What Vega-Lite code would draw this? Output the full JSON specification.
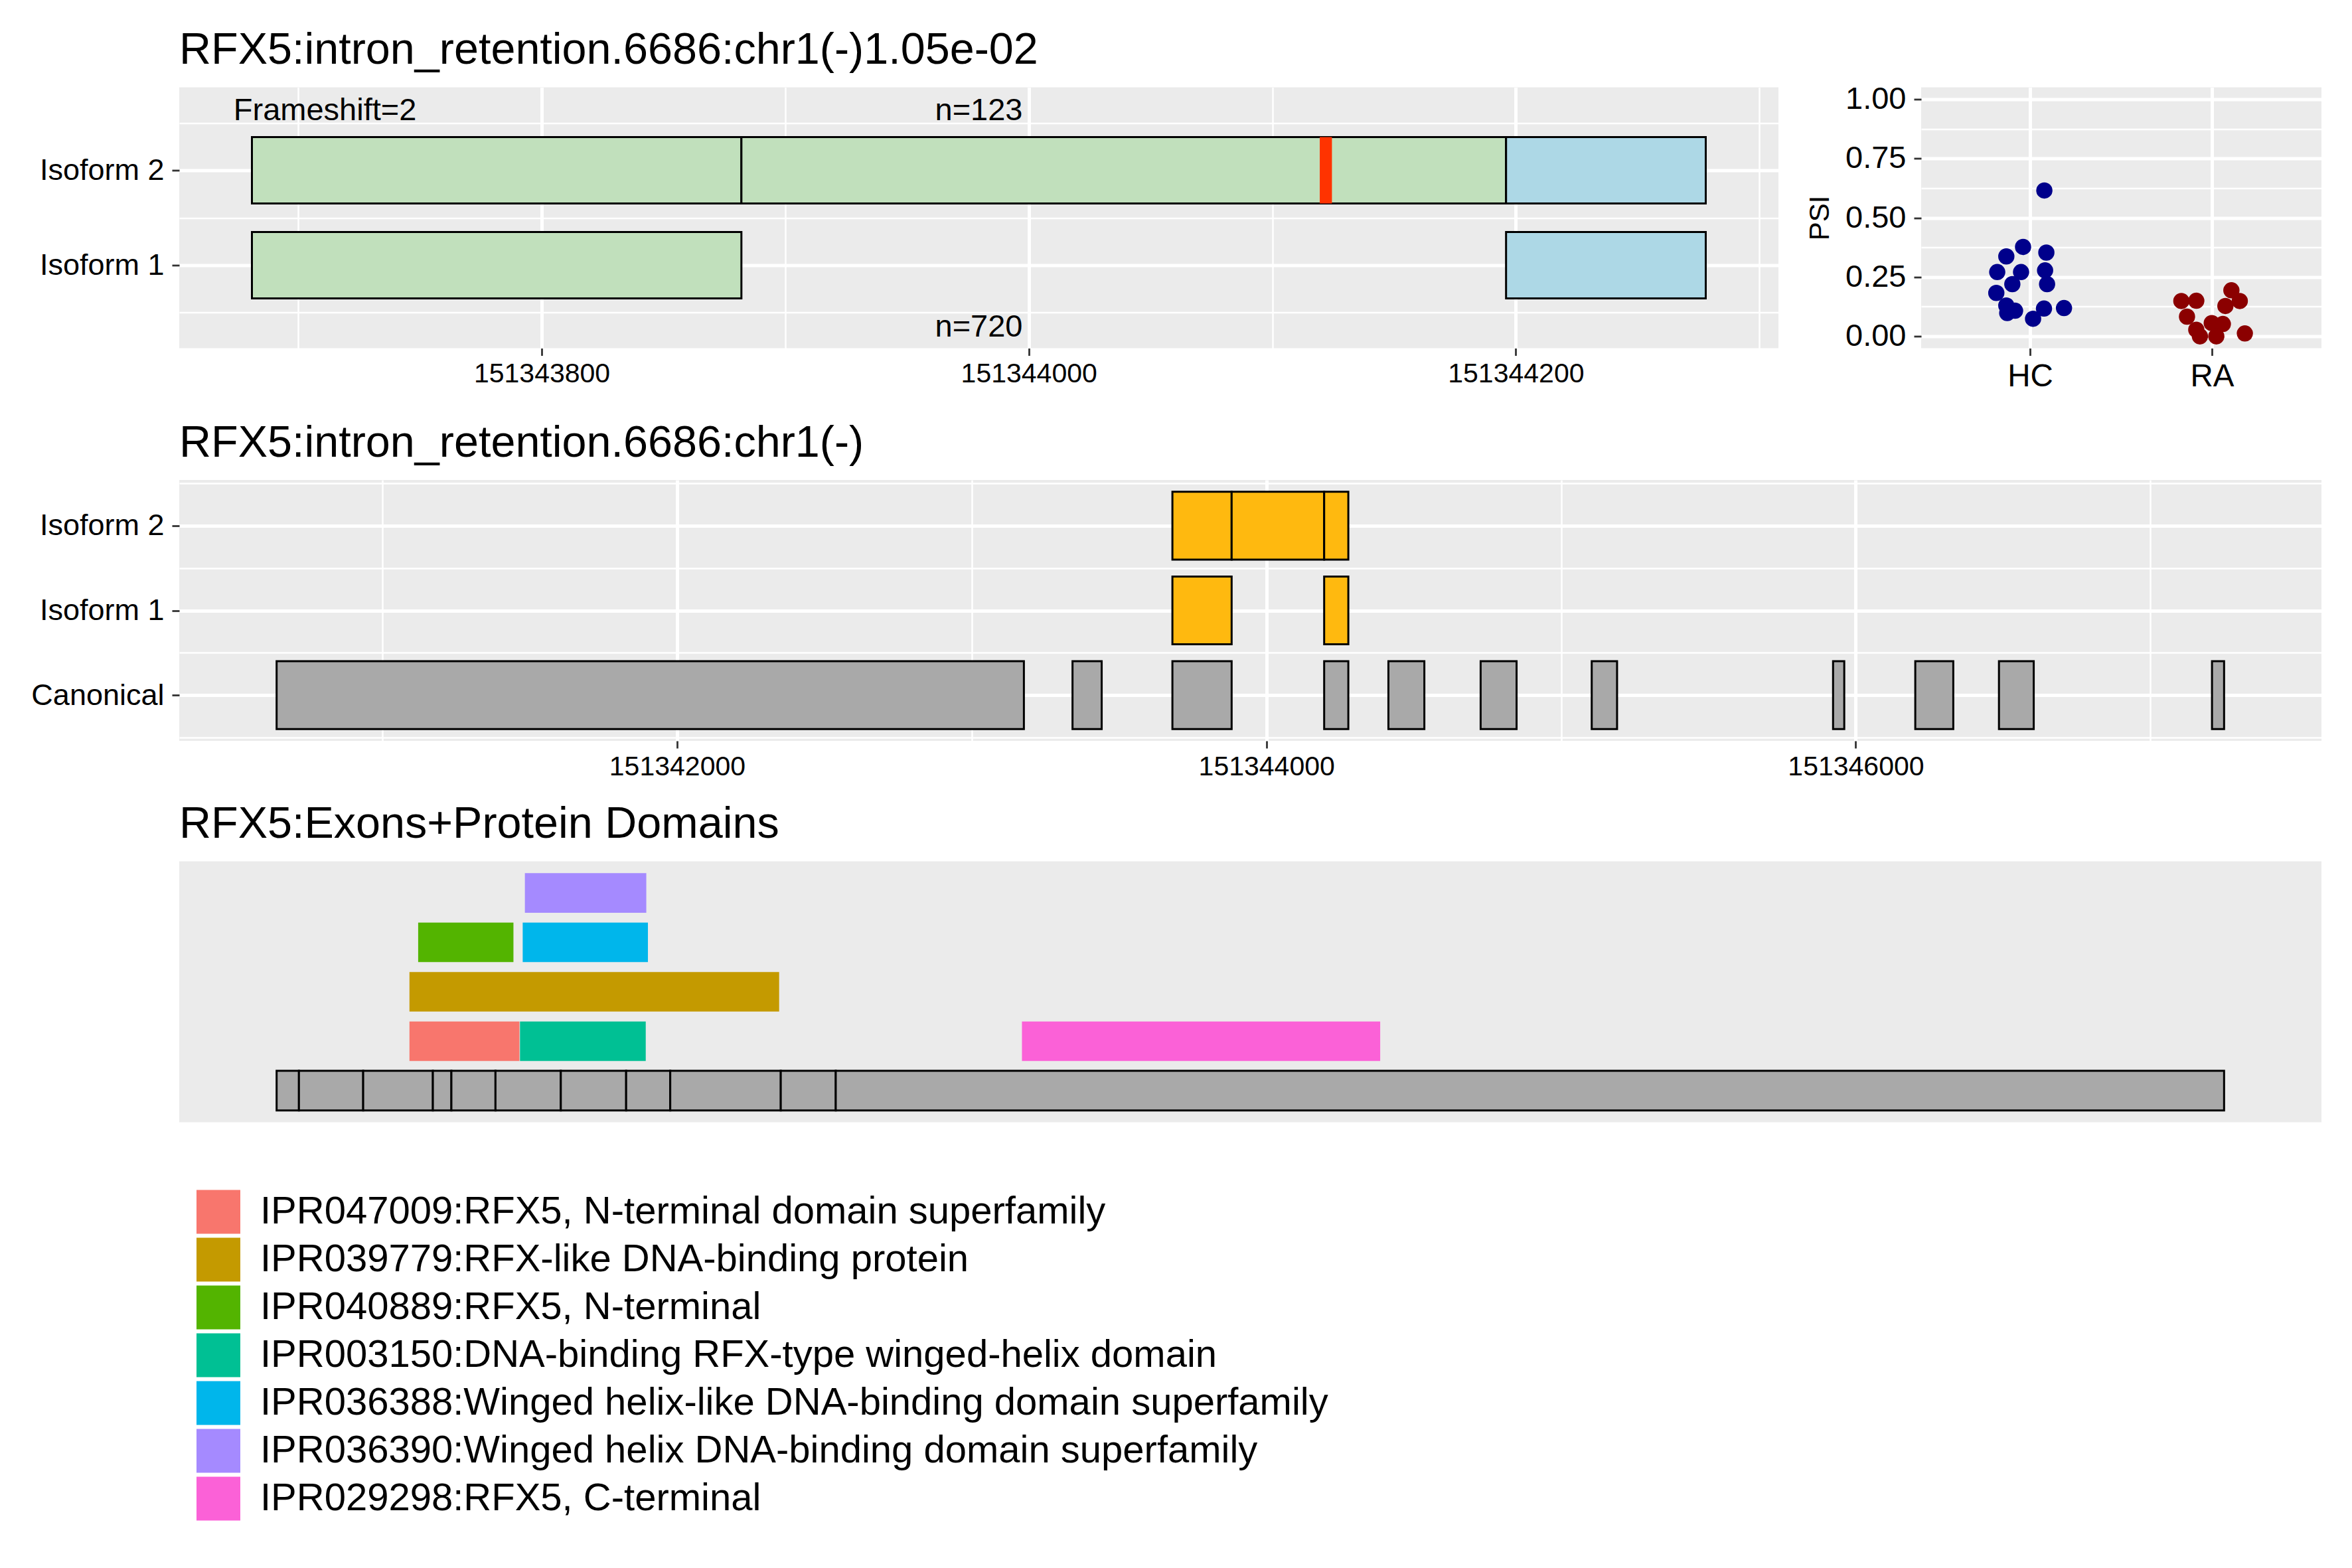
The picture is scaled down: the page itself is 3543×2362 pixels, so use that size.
{
  "$schema": "https://vega.github.io/schema/vega-lite/v6.json",
  "background": "white",
  "padding": {"left": 46, "top": 42.5, "right": 20, "bottom": 20},
  "spacing": 14.5,
  "bounds": "full",
  "resolve": {"scale": {"fill": "independent", "color": "independent"}},
  "config": {
    "font": "Liberation Sans",
    "view": {"fill": "#EBEBEB", "stroke": null},
    "axis": {"domain": false, "grid": true, "gridColor": "#FFFFFF", "tickColor": "#333333", "tickWidth": 2.8, "tickSize": 11, "labelColor": "#000000", "labelFont": "Liberation Sans", "titleFont": "Liberation Sans", "titleFontWeight": "normal", "titleColor": "#000000", "labelOverlap": false, "labelFlush": false, "labelLimit": 2000},
    "axisX": {"labelPadding": 8, "labelFontSize": 41},
    "axisY": {"labelPadding": 12, "labelFontSize": 45},
    "title": {"anchor": "start", "fontSize": 66.5, "font": "Liberation Sans", "fontWeight": "normal", "color": "#000000", "offset": 22, "frame": "group"}
  },
  "vconcat": [
    {
      "hconcat": [
        {
          "width": 2409,
          "height": 393,
          "title": {"text": "RFX5:intron_retention.6686:chr1(-)1.05e-02"},
          "encoding": {
            "x": {"field": "from", "type": "quantitative", "scale": {"domain": [151343651.15, 151344307.85], "nice": false, "zero": false},
              "axis": {"title": null, "values": [151343700, 151343800, 151343900, 151344000, 151344100, 151344200, 151344300], "minExtent": 95,
                "labelExpr": "datum.value % 200 == 0 ? format(datum.value, 'd') : ''",
                "labelFontSize": {"condition": {"test": "datum.value % 200 == 0", "value": 41}, "value": 0},
                "gridWidth": {"condition": {"test": "datum.value % 200 == 0", "value": 5}, "value": 2.5},
                "tickOpacity": {"condition": {"test": "datum.value % 200 == 0", "value": 1}, "value": 0}}},
            "y": {"field": "lo", "type": "quantitative", "scale": {"domain": [0.125, 2.875], "nice": false, "zero": false},
              "axis": {"title": null, "values": [0.5, 1, 1.5, 2, 2.5], "minExtent": 224, "maxExtent": 224,
                "labelExpr": "datum.value == 2 ? 'Isoform 2' : datum.value == 1 ? 'Isoform 1' : ''",
                "labelFontSize": {"condition": {"test": "datum.value % 1 == 0", "value": 45}, "value": 0},
                "gridWidth": {"condition": {"test": "datum.value % 1 == 0", "value": 5}, "value": 2.5},
                "tickOpacity": {"condition": {"test": "datum.value % 1 == 0", "value": 1}, "value": 0}}}
          },
          "layer": [
            {
              "data": {"values": [
                {"isoform": "Isoform 2", "from": 151343681, "to": 151343882, "lo": 1.65, "hi": 2.35, "region": "CDS"},
                {"isoform": "Isoform 2", "from": 151343882, "to": 151344196, "lo": 1.65, "hi": 2.35, "region": "CDS"},
                {"isoform": "Isoform 2", "from": 151344196, "to": 151344278, "lo": 1.65, "hi": 2.35, "region": "UTR"},
                {"isoform": "Isoform 1", "from": 151343681, "to": 151343882, "lo": 0.65, "hi": 1.35, "region": "CDS"},
                {"isoform": "Isoform 1", "from": 151344196, "to": 151344278, "lo": 0.65, "hi": 1.35, "region": "UTR"}
              ]},
              "mark": {"type": "rect", "stroke": "#000000", "strokeWidth": 3},
              "encoding": {
                "x2": {"field": "to"},
                "y2": {"field": "hi"},
                "fill": {"field": "region", "type": "nominal", "scale": {"domain": ["CDS", "UTR"], "range": ["#C1E0BC", "#ADD8E6"]}, "legend": null}
              }
            },
            {
              "data": {"values": [{"feature": "frameshift", "from": 151344119.5, "to": 151344124.5, "lo": 1.65, "hi": 2.35}]},
              "mark": {"type": "rect", "fill": "#FF3300"},
              "encoding": {"x2": {"field": "to"}, "y2": {"field": "hi"}}
            },
            {
              "data": {"values": [
                {"label": "Frameshift=2", "from": 151343711, "lo": 2.75},
                {"label": "n=123", "from": 151343979.5, "lo": 2.75}
              ]},
              "mark": {"type": "text", "baseline": "top", "align": "center", "fontSize": 47, "dy": -5, "color": "#000000"},
              "encoding": {"text": {"field": "label"}}
            },
            {
              "data": {"values": [{"label": "n=720", "from": 151343979.5, "lo": 0.25}]},
              "mark": {"type": "text", "baseline": "alphabetic", "align": "center", "fontSize": 47, "color": "#000000"},
              "encoding": {"text": {"field": "label"}}
            }
          ]
        },
        {
          "width": 603,
          "height": 393,
          "data": {"values": [
            {"group": "HC", "psi": 0.615, "jitter": 0.077},
            {"group": "HC", "psi": 0.377, "jitter": -0.040},
            {"group": "HC", "psi": 0.337, "jitter": -0.132},
            {"group": "HC", "psi": 0.353, "jitter": 0.088},
            {"group": "HC", "psi": 0.271, "jitter": -0.182},
            {"group": "HC", "psi": 0.271, "jitter": -0.051},
            {"group": "HC", "psi": 0.278, "jitter": 0.081},
            {"group": "HC", "psi": 0.220, "jitter": -0.099},
            {"group": "HC", "psi": 0.220, "jitter": 0.092},
            {"group": "HC", "psi": 0.183, "jitter": -0.187},
            {"group": "HC", "psi": 0.130, "jitter": -0.132},
            {"group": "HC", "psi": 0.108, "jitter": -0.084},
            {"group": "HC", "psi": 0.098, "jitter": -0.127},
            {"group": "HC", "psi": 0.117, "jitter": 0.075},
            {"group": "HC", "psi": 0.119, "jitter": 0.185},
            {"group": "HC", "psi": 0.074, "jitter": 0.015},
            {"group": "RA", "psi": 0.149, "jitter": -0.170},
            {"group": "RA", "psi": 0.150, "jitter": -0.088},
            {"group": "RA", "psi": 0.194, "jitter": 0.105},
            {"group": "RA", "psi": 0.149, "jitter": 0.151},
            {"group": "RA", "psi": 0.128, "jitter": 0.072},
            {"group": "RA", "psi": 0.083, "jitter": -0.139},
            {"group": "RA", "psi": 0.056, "jitter": -0.003},
            {"group": "RA", "psi": 0.052, "jitter": 0.058},
            {"group": "RA", "psi": 0.028, "jitter": -0.088},
            {"group": "RA", "psi": 0.0, "jitter": -0.068},
            {"group": "RA", "psi": 0.0, "jitter": 0.022},
            {"group": "RA", "psi": 0.012, "jitter": 0.179}
          ]},
          "mark": {"type": "circle", "size": 600, "opacity": 1},
          "encoding": {
            "x": {"field": "group", "type": "nominal", "scale": {"type": "band", "domain": ["HC", "RA"], "paddingInner": 0, "paddingOuter": 0.1},
              "axis": {"title": null, "labelAngle": 0, "labelFontSize": 47.5, "grid": true, "gridWidth": 5, "bandPosition": 0.5, "minExtent": 95}},
            "xOffset": {"field": "jitter", "type": "quantitative", "scale": {"domain": [-0.5, 0.5]}},
            "y": {"field": "psi", "type": "quantitative", "scale": {"domain": [-0.05, 1.05], "nice": false, "zero": false},
              "axis": {"title": "PSI", "titleFontSize": 42, "titlePadding": 16,
                "values": [0, 0.125, 0.25, 0.375, 0.5, 0.625, 0.75, 0.875, 1],
                "labelExpr": "round(datum.value * 8) % 2 == 0 ? format(datum.value, '.2f') : ''",
                "labelFontSize": {"condition": {"test": "round(datum.value * 8) % 2 == 0", "value": 47}, "value": 0},
                "gridWidth": {"condition": {"test": "round(datum.value * 8) % 2 == 0", "value": 5}, "value": 2.5},
                "tickOpacity": {"condition": {"test": "round(datum.value * 8) % 2 == 0", "value": 1}, "value": 0}}},
            "color": {"field": "group", "type": "nominal", "scale": {"domain": ["HC", "RA"], "range": ["#00008B", "#8B0000"]}, "legend": null}
          }
        }
      ],
      "spacing": 215,
      "bounds": "flush",
      "resolve": {"scale": {"fill": "independent", "color": "independent"}}
    },
    {
      "width": 3227,
      "height": 393,
      "title": {"text": "RFX5:intron_retention.6686:chr1(-)"},
      "data": {"values": [
        {"transcript": "Canonical", "from": 151340641, "to": 151343177, "lo": 0.6, "hi": 1.4},
        {"transcript": "Canonical", "from": 151343342, "to": 151343441, "lo": 0.6, "hi": 1.4},
        {"transcript": "Canonical", "from": 151343681, "to": 151343882, "lo": 0.6, "hi": 1.4},
        {"transcript": "Canonical", "from": 151344196, "to": 151344278, "lo": 0.6, "hi": 1.4},
        {"transcript": "Canonical", "from": 151344414, "to": 151344536, "lo": 0.6, "hi": 1.4},
        {"transcript": "Canonical", "from": 151344727, "to": 151344849, "lo": 0.6, "hi": 1.4},
        {"transcript": "Canonical", "from": 151345104, "to": 151345190, "lo": 0.6, "hi": 1.4},
        {"transcript": "Canonical", "from": 151345923, "to": 151345961, "lo": 0.6, "hi": 1.4},
        {"transcript": "Canonical", "from": 151346202, "to": 151346331, "lo": 0.6, "hi": 1.4},
        {"transcript": "Canonical", "from": 151346486, "to": 151346604, "lo": 0.6, "hi": 1.4},
        {"transcript": "Canonical", "from": 151347209, "to": 151347250, "lo": 0.6, "hi": 1.4},
        {"transcript": "Isoform 1", "from": 151343681, "to": 151343882, "lo": 1.6, "hi": 2.4},
        {"transcript": "Isoform 1", "from": 151344196, "to": 151344278, "lo": 1.6, "hi": 2.4},
        {"transcript": "Isoform 2", "from": 151343681, "to": 151343882, "lo": 2.6, "hi": 3.4},
        {"transcript": "Isoform 2", "from": 151343882, "to": 151344196, "lo": 2.6, "hi": 3.4},
        {"transcript": "Isoform 2", "from": 151344196, "to": 151344278, "lo": 2.6, "hi": 3.4}
      ]},
      "mark": {"type": "rect", "stroke": "#000000", "strokeWidth": 3},
      "encoding": {
        "x": {"field": "from", "type": "quantitative", "scale": {"domain": [151340310.55, 151347580.45], "nice": false, "zero": false},
          "axis": {"title": null, "values": [151341000, 151342000, 151343000, 151344000, 151345000, 151346000, 151347000], "minExtent": 78,
            "labelExpr": "datum.value % 2000 == 0 ? format(datum.value, 'd') : ''",
            "labelFontSize": {"condition": {"test": "datum.value % 2000 == 0", "value": 41}, "value": 0},
            "gridWidth": {"condition": {"test": "datum.value % 2000 == 0", "value": 5}, "value": 2.5},
            "tickOpacity": {"condition": {"test": "datum.value % 2000 == 0", "value": 1}, "value": 0}}},
        "x2": {"field": "to"},
        "y": {"field": "lo", "type": "quantitative", "scale": {"domain": [0.46, 3.54], "nice": false, "zero": false},
          "axis": {"title": null, "values": [0.5, 1, 1.5, 2, 2.5, 3, 3.5], "minExtent": 224, "maxExtent": 224,
            "labelExpr": "datum.value == 1 ? 'Canonical' : datum.value == 2 ? 'Isoform 1' : datum.value == 3 ? 'Isoform 2' : ''",
            "labelFontSize": {"condition": {"test": "datum.value % 1 == 0", "value": 45}, "value": 0},
            "gridWidth": {"condition": {"test": "datum.value % 1 == 0", "value": 5}, "value": 2.5},
            "tickOpacity": {"condition": {"test": "datum.value % 1 == 0", "value": 1}, "value": 0}}},
        "y2": {"field": "hi"},
        "fill": {"field": "transcript", "type": "nominal", "scale": {"domain": ["Canonical", "Isoform 1", "Isoform 2"], "range": ["#A9A9A9", "#FFB90F", "#FFB90F"]}, "legend": null}
      }
    },
    {
      "width": 3227,
      "height": 393,
      "title": {"text": "RFX5:Exons+Protein Domains"},
      "encoding": {
        "x": {"field": "from", "type": "quantitative", "scale": {"domain": [-178.85, 3755.85], "nice": false, "zero": false}, "axis": null},
        "x2": {"field": "to"},
        "y": {"field": "lo", "type": "quantitative", "scale": {"domain": [0.36, 5.64], "nice": false, "zero": false},
          "axis": {"title": null, "labels": false, "ticks": false, "domain": false, "grid": false, "minExtent": 224, "maxExtent": 224}},
        "y2": {"field": "hi"}
      },
      "layer": [
        {
          "data": {"values": [
            {"domain": "IPR047009:RFX5, N-terminal domain superfamily", "from": 244, "to": 446, "lo": 1.6, "hi": 2.4},
            {"domain": "IPR003150:DNA-binding RFX-type winged-helix domain", "from": 447, "to": 678, "lo": 1.6, "hi": 2.4},
            {"domain": "IPR029298:RFX5, C-terminal", "from": 1369, "to": 2027, "lo": 1.6, "hi": 2.4},
            {"domain": "IPR039779:RFX-like DNA-binding protein", "from": 244, "to": 923, "lo": 2.6, "hi": 3.4},
            {"domain": "IPR040889:RFX5, N-terminal", "from": 260, "to": 435, "lo": 3.6, "hi": 4.4},
            {"domain": "IPR036388:Winged helix-like DNA-binding domain superfamily", "from": 452, "to": 682, "lo": 3.6, "hi": 4.4},
            {"domain": "IPR036390:Winged helix DNA-binding domain superfamily", "from": 456, "to": 679, "lo": 4.6, "hi": 5.4}
          ]},
          "mark": {"type": "rect"},
          "encoding": {
            "fill": {"field": "domain", "type": "nominal",
              "scale": {"domain": [
                "IPR047009:RFX5, N-terminal domain superfamily",
                "IPR039779:RFX-like DNA-binding protein",
                "IPR040889:RFX5, N-terminal",
                "IPR003150:DNA-binding RFX-type winged-helix domain",
                "IPR036388:Winged helix-like DNA-binding domain superfamily",
                "IPR036390:Winged helix DNA-binding domain superfamily",
                "IPR029298:RFX5, C-terminal"],
                "range": ["#F8766D", "#C49A00", "#53B400", "#00C094", "#00B6EB", "#A58AFF", "#FB61D7"]},
              "legend": {"title": null, "orient": "none", "legendX": 26, "legendY": 495, "direction": "vertical", "padding": 0,
                "symbolType": "square", "symbolSize": 4356, "symbolStrokeWidth": 0, "symbolOpacity": 1,
                "labelFontSize": 58, "labelFont": "Liberation Sans", "labelColor": "#000000", "labelLimit": 3000, "labelOffset": 30, "rowPadding": 6}}
          }
        },
        {
          "data": {"values": [
            {"exon": 1, "from": 0, "to": 41, "lo": 0.6, "hi": 1.4},
            {"exon": 2, "from": 41, "to": 159, "lo": 0.6, "hi": 1.4},
            {"exon": 3, "from": 159, "to": 287, "lo": 0.6, "hi": 1.4},
            {"exon": 4, "from": 287, "to": 321, "lo": 0.6, "hi": 1.4},
            {"exon": 5, "from": 321, "to": 402, "lo": 0.6, "hi": 1.4},
            {"exon": 6, "from": 402, "to": 522, "lo": 0.6, "hi": 1.4},
            {"exon": 7, "from": 522, "to": 642, "lo": 0.6, "hi": 1.4},
            {"exon": 8, "from": 642, "to": 723, "lo": 0.6, "hi": 1.4},
            {"exon": 9, "from": 723, "to": 926, "lo": 0.6, "hi": 1.4},
            {"exon": 10, "from": 926, "to": 1027, "lo": 0.6, "hi": 1.4},
            {"exon": 11, "from": 1027, "to": 3577, "lo": 0.6, "hi": 1.4}
          ]},
          "mark": {"type": "rect", "fill": "#A9A9A9", "stroke": "#000000", "strokeWidth": 3}
        }
      ]
    }
  ]
}
